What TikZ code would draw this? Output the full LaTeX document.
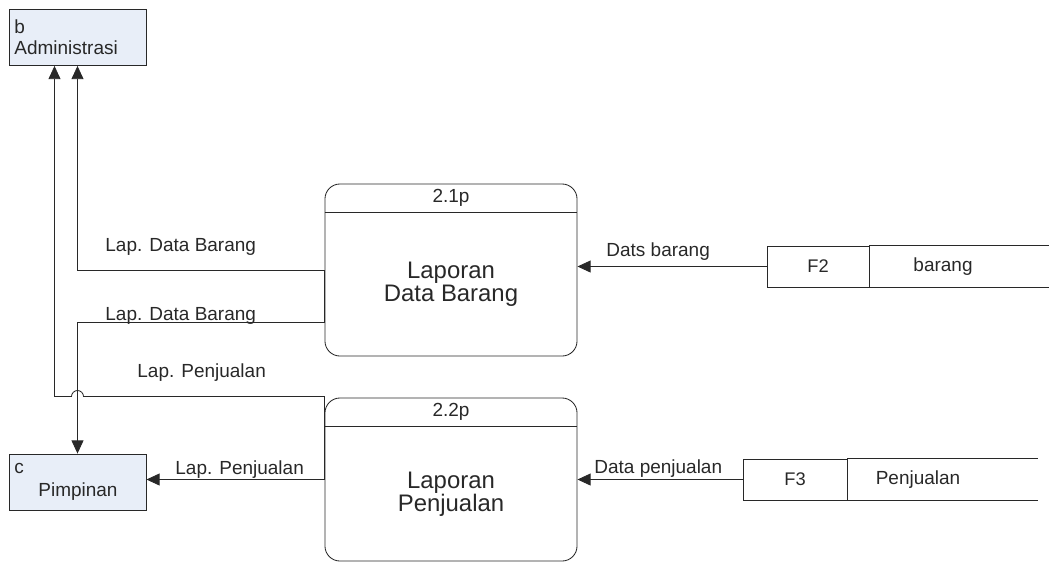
\documentclass[tikz,border=0pt]{standalone}
\usepackage{fontspec}
\setmainfont{Liberation Sans}
\usetikzlibrary{arrows.meta}
\definecolor{entfill}{RGB}{232,238,248}
\definecolor{linegray}{RGB}{40,40,40}
\begin{document}
\begin{tikzpicture}[x=0.025cm,y=-0.025cm,line width=0.6pt,color=linegray,
  ent/.style={draw,fill=entfill,minimum width=3.425cm,minimum height=1.4cm,inner sep=0pt},
  proc/.style={draw,rounded corners=0.375cm,minimum width=6.3cm,inner sep=0pt},
  store/.style={draw,minimum height=1.025cm,inner sep=0pt,font=\fontsize{13}{15}\selectfont},
  lbl/.style={font=\fontsize{13.5}{15}\selectfont,inner sep=0pt},
  big/.style={font=\fontsize{17}{16.5}\selectfont,align=center,inner sep=0pt},
  flow/.style={-{Triangle[length=0.33cm,width=0.3cm]}}]
\useasboundingbox (0,0) rectangle (1049,562);
% external entities
\node[ent] (admin) at (77.5,37.5) {};
\node[lbl,anchor=west] (adminid) at (14,27) {b};
\node[lbl,anchor=west] (adminname) at (14,48) {Administrasi};
\node[ent] (pimpinan) at (77.5,482) {};
\node[lbl,anchor=west] (pimpinanid) at (14,468) {c};
\node[lbl] (pimpinanname) at (78,492) {Pimpinan};
% processes
\node[proc,minimum height=4.3cm] (p21) at (451,270) {};
\draw ([shift={(0,29)}]p21.north west) -- ([shift={(0,29)}]p21.north east);
\node[lbl] (p21id) at ([shift={(0,14.5)}]p21.north) {2.1p};
\node[big] (p21txt) at ([shift={(0,14.5)}]p21.center) {Laporan\\Data Barang};
\node[proc,minimum height=4.075cm] (p22) at (451,479.5) {};
\draw ([shift={(0,29)}]p22.north west) -- ([shift={(0,29)}]p22.north east);
\node[lbl] (p22id) at ([shift={(0,14.5)}]p22.north) {2.2p};
\node[big] (p22txt) at ([shift={(0,14.5)}]p22.center) {Laporan\\Penjualan};
% data stores
\node[store,minimum width=2.55cm] (f2) at (818,266.5) {F2};
\node[lbl] (f2name) at (943,266.5) {barang};
\draw (f2.north east) -- ++(180,0);
\draw (f2.south east) -- ++(180,0);
\node[store,minimum width=2.6cm] (f3) at (795,479.5) {F3};
\node[lbl] (f3name) at (918,480) {Penjualan};
\draw (f3.north east) -- ++(191,0);
\draw (f3.south east) -- ++(191,0);
% flows
\draw[flow] (p21.west) -| (admin.south);
\draw[flow] (p21.west) -- ([shift={(0,52)}]p21.west) -| (pimpinan.north);
\coordinate (jog) at ([shift={(0,-83)}]p22.west);
\coordinate (adm2) at ([shift={(-23,0)}]admin.south);
\coordinate (hop) at (jog -| pimpinan.north);
\draw[flow] (p22.west) -- (jog) -- ([shift={(6,0)}]hop)
  arc[start angle=0,end angle=180,radius=0.15cm] -- (jog -| adm2) -- (adm2);
\draw[flow] (p22.west) -- (p22.west -| pimpinan.east);
\draw[flow] (f2.west) -- (f2.west -| p21.east);
\draw[flow] (f3.west) -- (f3.west -| p22.east);
% flow labels
\node[lbl,anchor=west] (lapbrg1) at (105,247) {Lap. Data Barang};
\node[lbl,anchor=west] (lapbrg2) at (105,316) {Lap. Data Barang};
\node[lbl,anchor=west] (lappnj1) at (137,373) {Lap. Penjualan};
\node[lbl,anchor=west] (lappnj2) at (175,470) {Lap. Penjualan};
\node[lbl,anchor=west] (dtbrg) at (606,252) {Dats barang};
\node[lbl,anchor=west] (dtpnj) at (594,469) {Data penjualan};
\end{tikzpicture}
\end{document}
